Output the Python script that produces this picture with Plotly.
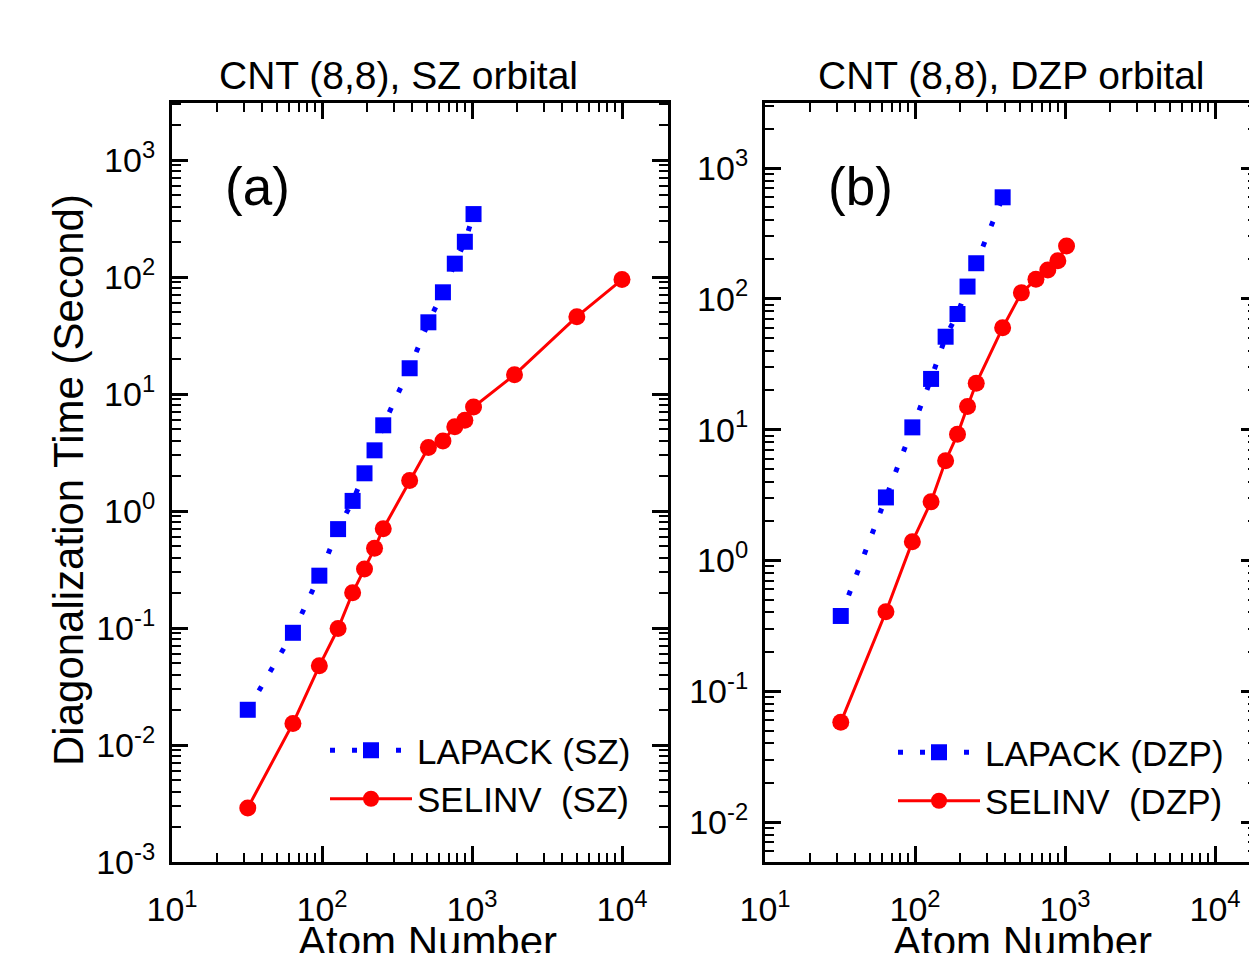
import plotly.graph_objects as go

# ---------------- data ----------------
sz_n_lapack = [32, 64, 96, 128, 160, 192, 224, 256, 384, 512, 640, 768, 896, 1024]
sz_t_lapack = [0.020, 0.091, 0.28, 0.70, 1.22, 2.1, 3.3, 5.4, 16.6, 41, 74, 130, 200, 345]
sz_n_selinv = [32, 64, 96, 128, 160, 192, 224, 256, 384, 512, 640, 768, 896, 1024, 1920, 5000, 10000]
sz_t_selinv = [0.0029, 0.0153, 0.0475, 0.099, 0.20, 0.32, 0.48, 0.705, 1.82, 3.49, 3.96, 5.24, 5.97, 7.75, 14.6, 45.8, 95]

dzp_n_lapack = [32, 64, 96, 128, 160, 192, 224, 256, 384]
dzp_t_lapack = [0.376, 3.03, 10.4, 24.4, 51.3, 76.5, 124, 187, 597]
dzp_n_selinv = [32, 64, 96, 128, 160, 192, 224, 256, 384, 512, 640, 768, 896, 1024]
dzp_t_selinv = [0.0578, 0.405, 1.39, 2.81, 5.78, 9.2, 15.0, 22.6, 60.1, 111, 141, 166, 195, 253]

x_tick_vals = [10, 100, 1000, 10000]
x_tick_text = ["10<sup>1</sup>", "10<sup>2</sup>", "10<sup>3</sup>", "10<sup>4</sup>"]
ya_tick_vals = [1e-3, 1e-2, 1e-1, 1e0, 1e1, 1e2, 1e3]
ya_tick_text = ["10<sup>-3</sup>", "10<sup>-2</sup>", "10<sup>-1</sup>", "10<sup>0</sup>",
                "10<sup>1</sup>", "10<sup>2</sup>", "10<sup>3</sup>"]
yb_tick_vals = [1e-2, 1e-1, 1e0, 1e1, 1e2, 1e3]
yb_tick_text = ["10<sup>-2</sup>", "10<sup>-1</sup>", "10<sup>0</sup>",
                "10<sup>1</sup>", "10<sup>2</sup>", "10<sup>3</sup>"]

titles = ["CNT (8,8), SZ orbital", "CNT (8,8), DZP orbital"]
panel_labels = ["(a)", "(b)"]
x_title = "Atom Number"
y_title = "Diagonalization Time (Second)"

# ---------------- style ----------------
FONT = "Liberation Sans, Arial, Helvetica, sans-serif"
OFF = 8                      # page body margin
W, H = 1257 - OFF, 953 - OFF  # figure size
BLUE = "#0000ff"
RED = "#ff0000"

def px(xp):   # page x (px) -> paper fraction
    return (xp - OFF) / W

def py(yp):   # page y (px, from top) -> paper fraction
    return 1 - (yp - OFF) / H

x_minor = [k * 10 ** d for d in range(1, 5) for k in range(2, 10)]
y_minor = [k * 10.0 ** d for d in range(-4, 4) for k in range(2, 10)]

fig = go.Figure()

def lapack(x, y, name, xa, ya, lg):
    return go.Scatter(x=x, y=y, name=name, xaxis=xa, yaxis=ya, legend=lg,
                      mode="lines+markers",
                      line=dict(color=BLUE, width=5, dash="5px,17px"),
                      marker=dict(symbol="square", size=16, color=BLUE))

def selinv(x, y, name, xa, ya, lg):
    return go.Scatter(x=x, y=y, name=name, xaxis=xa, yaxis=ya, legend=lg,
                      mode="lines+markers",
                      line=dict(color=RED, width=3),
                      marker=dict(symbol="circle", size=17, color=RED))

fig.add_trace(lapack(sz_n_lapack, sz_t_lapack, "LAPACK (SZ)", "x", "y", "legend"))
fig.add_trace(selinv(sz_n_selinv, sz_t_selinv, "SELINV  (SZ)", "x", "y", "legend"))
fig.add_trace(lapack(dzp_n_lapack, dzp_t_lapack, "LAPACK (DZP)", "x2", "y2", "legend2"))
fig.add_trace(selinv(dzp_n_selinv, dzp_t_selinv, "SELINV  (DZP)", "x2", "y2", "legend2"))

def axis(**kw):
    d = dict(type="log", showline=True, linecolor="black", linewidth=3,
             mirror="allticks", ticks="inside", ticklen=16, tickwidth=3,
             tickcolor="black", showgrid=False, zeroline=False, automargin=False,
             tickfont=dict(size=34, family=FONT, color="black"),
             tickmode="array")
    d.update(kw)
    return d

def minor(vals):
    return dict(ticks="inside", ticklen=9, tickwidth=2, tickcolor="black",
                tickmode="array", tickvals=vals, showgrid=False)

ydom = [py(862), py(103)]

fig.update_layout(
    template="none",
    width=W, height=H,
    margin=dict(l=0, r=0, t=0, b=0),
    paper_bgcolor="white", plot_bgcolor="white",
    font=dict(family=FONT, color="black"),
    showlegend=True,
    xaxis=axis(domain=[px(172), px(668)], range=[1, 1 + 496 / 150],
               tickvals=x_tick_vals, ticktext=x_tick_text, anchor="y",
               ticklabelstandoff=15, minor=minor(x_minor)),
    yaxis=axis(domain=ydom, range=[-3, 3 + 57 / 117],
               tickvals=ya_tick_vals, ticktext=ya_tick_text, anchor="x",
               ticklabelstandoff=7, minor=minor(y_minor)),
    xaxis2=axis(domain=[px(765), 1.0], range=[1, 1 + 492 / 150],
                tickvals=x_tick_vals, ticktext=x_tick_text, anchor="y2",
                ticklabelstandoff=15, minor=minor(x_minor)),
    yaxis2=axis(domain=ydom, range=[-2 - 40 / 130.8, 3 + 65 / 130.8],
                tickvals=yb_tick_vals, ticktext=yb_tick_text, anchor="x2",
                ticklabelstandoff=7, minor=minor(y_minor)),
    legend=dict(x=px(325), y=py(721), xanchor="left", yanchor="top",
                font=dict(size=35, family=FONT, color="black"), itemwidth=82,
                bgcolor="rgba(0,0,0,0)", tracegroupgap=0),
    legend2=dict(x=px(893), y=py(723), xanchor="left", yanchor="top",
                 font=dict(size=35, family=FONT, color="black"), itemwidth=82,
                 bgcolor="rgba(0,0,0,0)", tracegroupgap=0),
)

# panel titles and labels
for txt, cx in zip(titles, [398, 1011]):
    fig.add_annotation(text=txt, x=px(cx), y=py(75), xref="paper", yref="paper",
                       xanchor="center", yanchor="middle", showarrow=False,
                       font=dict(size=39, family=FONT, color="black"))
for txt, cx in zip(panel_labels, [257, 860]):
    fig.add_annotation(text=txt, x=px(cx), y=py(186), xref="paper", yref="paper",
                       xanchor="center", yanchor="middle", showarrow=False,
                       font=dict(size=53, family=FONT, color="black"))
# axis titles
for cx in [427, 1022]:
    fig.add_annotation(text=x_title, x=px(cx), y=py(941), xref="paper", yref="paper",
                       xanchor="center", yanchor="middle", showarrow=False,
                       font=dict(size=42, family=FONT, color="black"))
fig.add_annotation(text=y_title, x=px(69), y=py(480), xref="paper", yref="paper",
                   xanchor="center", yanchor="middle", showarrow=False, textangle=-90,
                   font=dict(size=42, family=FONT, color="black"))

fig.write_html("out.html")
